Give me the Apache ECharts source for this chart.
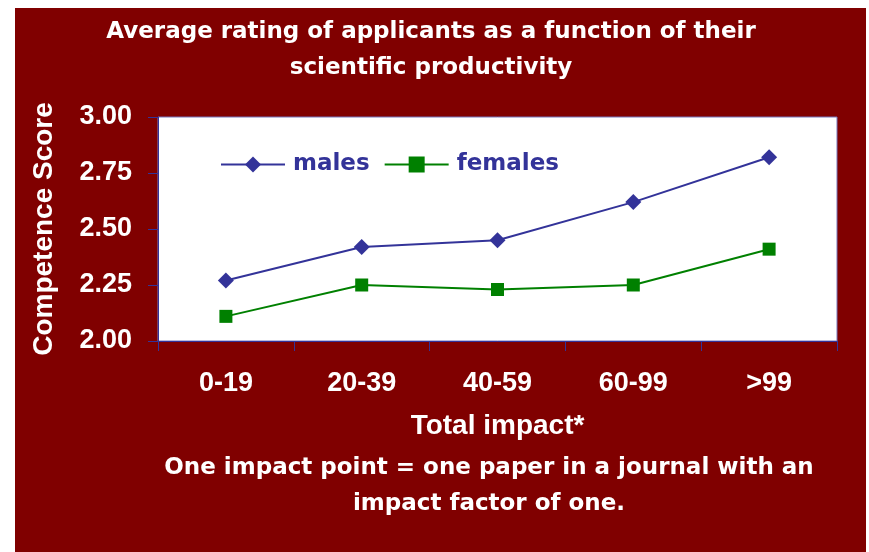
<!DOCTYPE html>
<html>
<head>
<meta charset="utf-8">
<script src="https://cdn.jsdelivr.net/npm/echarts@6/dist/echarts.min.js"></script>
<style>
    html, body { margin: 0; padding: 0; background: #ffffff; }
    #chart { position: absolute; left: 15px; top: 8px; width: 851px; height: 544px; }
</style>
</head>
<body>
<div id="chart"></div>
<script>
    // data
    var categories = ['0-19', '20-39', '40-59', '60-99', '>99'];
    var males = [2.27, 2.42, 2.45, 2.62, 2.82];
    var females = [2.11, 2.25, 2.23, 2.25, 2.41];
    var yTicks = { min: 2.0, max: 3.0, interval: 0.25 };

    var font = '"Liberation Sans", Arial, sans-serif';
    var wide = '"DejaVu Sans", sans-serif';
    var myChart = echarts.init(document.getElementById('chart'));

    myChart.setOption({
        backgroundColor: '#800000',
        textStyle: { fontFamily: font },
        graphic: [
            {
                type: 'text', x: 416, y: 42,
                style: {
                    text: 'Average rating of applicants as a function of their\nscientific productivity',
                    fill: '#ffffff', font: 'bold 23px ' + wide,
                    align: 'center', verticalAlign: 'middle', lineHeight: 36
                }
            },
            {
                type: 'text', x: 474, y: 478,
                style: {
                    text: 'One impact point = one paper in a journal with an\nimpact factor of one.',
                    fill: '#ffffff', font: 'bold 23px ' + wide,
                    align: 'center', verticalAlign: 'middle', lineHeight: 36
                }
            }
        ],
        legend: {
            left: 205,
            top: 145,
            padding: 0,
            itemWidth: 64,
            itemHeight: 20,
            itemGap: 14,
            data: ['males', 'females'],
            textStyle: {
                color: '#333399', fontSize: 23, fontWeight: 'bold', fontFamily: wide,
                padding: [0, 0, 0, 3]
            }
        },
        grid: {
            left: 143,
            right: 29,
            top: 109,
            bottom: 211,
            show: true,
            backgroundColor: '#ffffff',
            borderColor: '#7777bb',
            borderWidth: 1
        },
        xAxis: {
            type: 'category',
            data: categories,
            boundaryGap: true,
            name: 'Total impact*',
            nameLocation: 'middle',
            nameGap: 71,
            nameTextStyle: { color: '#ffffff', fontSize: 28, fontWeight: 'bold', fontFamily: font },
            axisLine: { lineStyle: { color: '#333399', width: 1 } },
            axisTick: { show: true, length: 10, alignWithLabel: false, lineStyle: { color: '#333399' } },
            axisLabel: { color: '#ffffff', fontSize: 27, fontWeight: 'bold', margin: 29, fontFamily: font },
            splitLine: { show: false }
        },
        yAxis: {
            type: 'value',
            min: yTicks.min,
            max: yTicks.max,
            interval: yTicks.interval,
            name: 'Competence Score',
            nameLocation: 'middle',
            nameGap: 100,
            nameTextStyle: { color: '#ffffff', fontSize: 28, fontWeight: 'bold', fontFamily: font },
            axisLine: { show: true, lineStyle: { color: '#333399', width: 1 } },
            axisTick: { show: true, length: 10, lineStyle: { color: '#333399' } },
            axisLabel: {
                color: '#ffffff', fontSize: 27, fontWeight: 'bold', margin: 26, fontFamily: font,
                formatter: function (v) { return v.toFixed(2); }
            },
            splitLine: { show: false }
        },
        series: [
            {
                name: 'males',
                type: 'line',
                data: males,
                symbol: 'diamond',
                symbolSize: 16,
                itemStyle: { color: '#333399' },
                lineStyle: { color: '#333399', width: 2 }
            },
            {
                name: 'females',
                type: 'line',
                data: females,
                symbol: 'rect',
                symbolSize: 13,
                itemStyle: { color: '#008000' },
                lineStyle: { color: '#008000', width: 2 }
            }
        ]
    });
</script>
</body>
</html>
